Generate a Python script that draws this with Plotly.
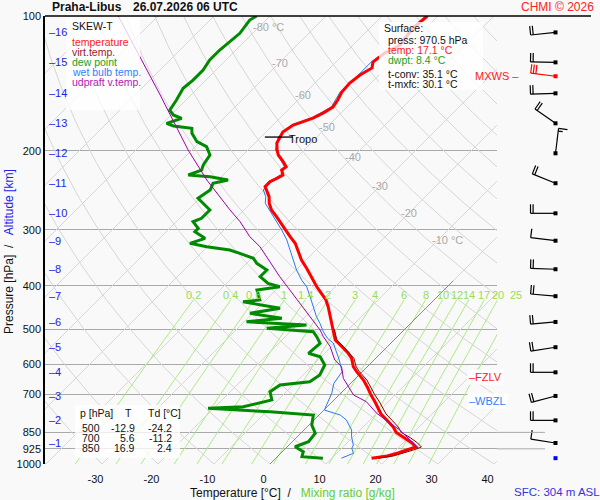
import numpy as np
import plotly.graph_objects as go

station = "Praha-Libus"
valid_time = "26.07.2026 06 UTC"

# environment temperature, pressure [hPa] / temperature [°C]
temp_p = [100, 106.4, 116.1, 120.9, 126.7, 130.6, 135.4, 141.1, 147.8, 154.0, 159.7, 164.7, 169.0, 173.4,
          175.1, 181.5, 186.3, 192.1, 199.1, 204.3, 211.5, 217.0, 220.8, 226.4, 230.3, 234.4, 240.4,
          246.7, 253.1, 261.8, 271.0, 280.5, 287.9, 300.4, 310.9, 321.7, 333.0, 350.5, 365.8, 385.1,
          402.1, 415.9, 430.5, 445.6, 465.0, 485.3, 500, 528.6, 547.2, 566.1, 580.8, 606.4, 622.3,
          649.4, 676.7, 700, 727.3, 749.9, 773.4, 797.8, 826.8, 850, 875.0, 897.6, 916.4, 930.6,
          945.1, 959.7, 970.5]
temp_t = [-51.9, -52.3, -51.6, -52.9, -53.4, -52.5, -53.4, -53.8, -53.6, -52.9, -52.5, -53.2, -54.1, -55.5,
          -56.4, -57.0, -56.6, -56.1, -54.8, -53.7, -51.6, -50.2, -50.4, -49.3, -49.8, -50.4, -50.4,
          -49.1, -47.9, -46.7, -45.1, -43.0, -41.5, -39.1, -37.0, -34.9, -33.3, -30.8, -28.4, -25.7,
          -23.3, -21.3, -19.3, -17.7, -15.9, -14.1, -12.9, -10.5, -8.1, -5.8, -4.3, -2.5, -1.0,
          1.7, 3.9, 5.6, 7.7, 9.3, 10.9, 13.0, 15.4, 16.9, 19.5, 21.6, 23.0, 22.0,
          20.9, 19.5, 17.1]

# virtual temperature (lower part, above it lies under the temperature)
virt_p = [500, 528.6, 547.2, 566.1, 580.8, 606.4, 622.3, 649.4, 676.7, 700, 727.3, 749.9, 773.4,
          797.8, 826.8, 850, 875.0, 897.6, 916.4, 930.6, 945.1, 959.7, 970.5]
virt_t = [-12.6, -10.2, -7.8, -5.5, -3.9, -2.0, -0.5, 2.3, 4.5, 6.3, 8.5, 10.1, 11.8,
          13.9, 16.3, 17.8, 20.5, 22.6, 24.0, 23.1, 22.0, 20.6, 18.3]

# dew point
dew_p = [100, 102.1, 109.3, 114.1, 119.1, 125.4, 132.0, 139.0, 145.0, 154.0, 162.2, 166.3, 169.2, 173.6,
         176.0, 178.1, 182.7, 190.8, 195.7, 204.3, 215.1, 220.8, 226.4, 228.4, 232.3, 236.3, 244.6,
         255.2, 261.8, 271.0, 282.9, 287.9, 297.8, 303.0, 313.5, 321.7, 327.3, 333.0, 338.7, 347.4,
         356.5, 369.0, 381.9, 395.2, 402.1, 408.9, 430.5, 434.3, 449.3, 460.9, 473.0, 481.4, 489.5,
         497.8, 506.6, 519.7, 537.9, 566.1, 576.1, 601.2, 632.9, 655.1, 666.4, 689.7, 719.7, 745.0,
         751.3, 764.6, 777.5, 818.4, 854.0, 891.7, 915.1, 938.7, 963.1, 970.5]
dew_t = [-82.4, -82.9, -82.3, -82.6, -82.9, -82.9, -82.3, -82.3, -82.6, -81.7, -81.1, -79.6, -77.5, -79.3,
         -77.6, -73.9, -73.0, -70.6, -68.0, -65.9, -65.3, -64.7, -66.2, -62.0, -58.2, -60.3, -59.6,
         -60.3, -58.5, -56.1, -56.1, -57.0, -54.9, -54.9, -51.9, -53.7, -50.1, -45.4, -43.0, -39.7,
         -38.2, -35.2, -35.2, -32.6, -29.9, -33.4, -31.1, -33.8, -26.0, -30.5, -23.9, -29.6, -18.3,
         -24.8, -15.9, -14.4, -12.6, -12.9, -10.2, -7.9, -7.0, -7.6, -12.3, -12.9, -11.1, -15.0,
         -21.0, -9.3, -1.0, 0.5, 2.6, 2.9, 1.4, 3.75, 4.4, 8.4]

# wet bulb temperature
wet_p = [100, 106.4, 116.1, 120.9, 126.7, 135.4, 147.8, 159.7, 169.0, 175.1, 186.3, 199.1, 211.5, 217.0,
         226.4, 234.4, 244.6, 253.1, 261.8, 275.7, 287.9, 300.4, 316.2, 333.0, 350.5, 369.0, 388.5,
         402.1, 423.3, 445.6, 469.1, 485.3, 506.6, 524.0, 537.0, 586.0, 622.3, 660.6, 695.3, 751.3,
         758.0, 777.5, 797.8, 839.7, 869.3, 907.0, 922.6, 946.5, 963.1, 970.5]
wet_t = [-52.2, -52.6, -51.9, -53.2, -53.7, -53.7, -53.9, -52.8, -54.4, -56.7, -56.9, -55.1, -51.9, -50.5,
         -49.6, -50.7, -50.1, -48.5, -47.4, -44.5, -42.1, -39.7, -37.0, -34.6, -32.3, -29.9, -27.2,
         -25.1, -22.7, -20.4, -18.0, -16.2, -14.1, -12.2, -10.3, -6.2, -3.6, -3.0, -1.6, -0.1,
         0.1, 3.8, 5.8, 8.5, 9.7, 11.5, 11.8, 13.0, 12.1, 11.7]

# updraft virtual temperature
upd_p = [100, 150.1, 199.1, 232.3, 271.0, 287.9, 310.9, 327.3, 381.9, 437.9, 502.1, 519.7, 547.2,
         586.0, 606.4, 643.9, 683.8, 701.5, 726.1, 770.6, 839.7, 917.7]
upd_t = [-107.1, -85.5, -70.7, -62.0, -52.5, -48.6, -44.2, -40.6, -31.7, -23.3, -15.0, -13.2, -10.2,
         -7.0, -4.6, -2.2, 1.1, 2.6, 6.1, 10.0, 17.1, 23.4]

# altitude levels [km] and their pressure, wind at those levels
alt_km = [1, 2, 3, 4, 5, 6, 7, 8, 9, 10, 11, 12, 13, 14, 15, 16]
alt_p = [897.6, 799.1, 704.9, 624.2, 548.7, 481.9, 422.1, 367.5, 317.4, 275.7, 236.2, 202.5, 173.6,
         148.8, 126.9, 108.8]
wind_dir = [279, 270, 255, 270, 261, 265, 275, 272, 277, 270, 292, 7, 305, 268, 271, 264]
wind_kt = [10, 20, 20, 20, 20, 20, 20, 20, 10, 20, 20, 15, 20, 20, 20, 20]
mxws_p, mxws_dir, mxws_kt = 136.3, 277, 30

sfc_p, sfc_t, sfc_td = 970.5, 17.1, 8.4
t_conv, t_mxfc = 35.1, 30.1
tropo_p, tropo_t = 186.3, -56.6
fzlv_p, wbzl_p = 640, 723

table_p = [500, 700, 850]
table_t = [-12.9, 5.6, 16.9]
table_td = [-24.2, -11.2, 2.4]

p_ticks = [100, 200, 300, 400, 500, 600, 700, 850, 925, 1000]
t_ticks = [-30, -20, -10, 0, 10, 20, 30, 40]
iso_label_t = [-80, -70, -60, -50, -40, -30, -20, -10]
iso_label_p = [106, 127, 150, 177, 206, 240, 275, 316]
mix_vals = [0.2, 0.4, 0.6, 1, 1.4, 2, 3, 4, 6, 8, 10, 12, 14, 17, 20, 25]

BG = "#f9f9f9"
FONT = "Liberation Sans, Arial, sans-serif"


def skew(t, p):
    return np.asarray(t, dtype=float) + 80.0 * np.log10(1000.0 / np.asarray(p, dtype=float))


def px(x):
    return (x - 45) / 555.0


def py(y):
    return (464 - y) / 448.0


def skew_paper(xs):
    # skewed temperature -> paper x (0 deg at 270 px, 5.6 px per deg)
    return px(270 + 5.6 * xs)


def joined(lines):
    xs, ys = [], []
    for x, y in lines:
        xs += list(x) + [None]
        ys += list(y) + [None]
    return xs, ys


fig = go.Figure()
bg_line = dict(hoverinfo="skip", showlegend=False, mode="lines")

# dry adiabats
pp = np.logspace(3, 2, 80)
lines = []
for th in range(-40, 210, 10):
    tt = (th + 273.15) * (pp / 1000.0) ** 0.2857 - 273.15
    lines.append((skew(tt, pp), pp))
x, y = joined(lines)
fig.add_trace(go.Scatter(x=x, y=y, line=dict(color="#d6d6d6", width=1), **bg_line))

# isotherms
lines = [(skew([t, t], [1000, 100]), [1000, 100]) for t in range(-130, 50, 10)]
x, y = joined(lines)
fig.add_trace(go.Scatter(x=x, y=y, line=dict(color="#d6d6d6", width=1), **bg_line))

# mixing ratio lines
pm = np.linspace(1000, 430, 30)
lines = []
for w in mix_vals:
    e = w * pm / (622.0 + w)
    l = np.log(e / 6.112)
    td = 243.5 * l / (17.67 - l)
    lines.append((skew(td, pm), pm))
x, y = joined(lines)
fig.add_trace(go.Scatter(x=x, y=y, line=dict(color="#aeea86", width=1), **bg_line))

# 0 °C isotherm
fig.add_trace(go.Scatter(x=skew([0, 0], [1000, 390]), y=[1000, 390],
                         line=dict(color="#777777", width=0.8), **bg_line))

# profiles
fig.add_trace(go.Scatter(x=skew(dew_t, dew_p), y=dew_p, line=dict(color="#008a00", width=3), **bg_line))
fig.add_trace(go.Scatter(x=skew(wet_t, wet_p), y=wet_p, line=dict(color="#2a78f0", width=1), **bg_line))
fig.add_trace(go.Scatter(x=skew(temp_t, temp_p), y=temp_p, line=dict(color="#ff0000", width=3), **bg_line))
fig.add_trace(go.Scatter(x=skew(virt_t, virt_p), y=virt_p, line=dict(color="#8b0000", width=1), **bg_line))
fig.add_trace(go.Scatter(x=skew(upd_t, upd_p), y=upd_p, line=dict(color="#a000a8", width=1), **bg_line))

# tropopause mark
xt = float(skew(tropo_t, tropo_p))
fig.add_trace(go.Scatter(x=[xt - 2.7, xt + 2.3], y=[tropo_p, tropo_p],
                         line=dict(color="black", width=1.3), **bg_line))


# wind barbs in the right-hand column (x2 in pixels)
def barb(p0, wdir, kt, x0=555.5, staff=25.0, blen=9.0, gap=2.6):
    a = np.radians(wdir)
    ux, uy = np.sin(a), -np.cos(a)
    bx, by = -uy, ux
    segs = [((0, 0), (staff * ux, staff * uy))]
    nfull, half = kt // 10, (kt % 10) >= 5
    for i in range(nfull):
        sx, sy = (staff - i * gap) * ux, (staff - i * gap) * uy
        segs.append(((sx, sy), (sx + blen * bx, sy + blen * by)))
    if half:
        sx, sy = (staff - nfull * gap) * ux, (staff - nfull * gap) * uy
        segs.append(((sx, sy), (sx + 0.5 * blen * bx, sy + 0.5 * blen * by)))
    xs, ps = [], []
    for (ax, ay), (bx2, by2) in segs:
        xs += [x0 + ax, x0 + bx2, None]
        ps += [p0 * 10 ** (ay / 448.0), p0 * 10 ** (by2 / 448.0), None]
    return xs, ps


bxs, bps = [], []
for p0, d, s in zip(alt_p, wind_dir, wind_kt):
    xs, ps = barb(p0, d, s)
    bxs += xs
    bps += ps
fig.add_trace(go.Scatter(x=bxs, y=bps, xaxis="x2", yaxis="y2", line=dict(color="black", width=1.2), **bg_line))
fig.add_trace(go.Scatter(x=[555.5] * len(alt_p), y=alt_p, xaxis="x2", yaxis="y2", mode="markers",
                         marker=dict(symbol="square", size=4, color="black"), hoverinfo="skip", showlegend=False))
xs, ps = barb(mxws_p, mxws_dir, mxws_kt)
fig.add_trace(go.Scatter(x=xs, y=ps, xaxis="x2", yaxis="y2", line=dict(color="#ff0000", width=1.2), **bg_line))
fig.add_trace(go.Scatter(x=[555.5, 555.5], y=[mxws_p, sfc_p], xaxis="x2", yaxis="y2", mode="markers",
                         marker=dict(symbol="square", size=4, color=["#ff0000", "#0000ff"]),
                         hoverinfo="skip", showlegend=False))
# longer pressure lines at the bottom
x, y = joined([([497, 545], [p, p]) for p in [850, 925]])
fig.add_trace(go.Scatter(x=x, y=y, xaxis="x2", yaxis="y2", line=dict(color="#a9a9a9", width=1), **bg_line))

fig.update_layout(
    width=600, height=500,
    margin=dict(l=45, r=0, t=16, b=36),
    paper_bgcolor=BG, plot_bgcolor=BG,
    showlegend=False,
    font=dict(family=FONT, size=11, color="#111111"),
    xaxis=dict(domain=[0, 452 / 555], range=[(45 - 270) / 5.6, (497 - 270) / 5.6],
               tickvals=[t - 1.16 for t in t_ticks], ticktext=[str(t) for t in t_ticks],
               showgrid=False, zeroline=False, showline=False,
               ticks="outside", ticklen=5, tickcolor="rgba(0,0,0,0)", tickfont=dict(size=11)),
    yaxis=dict(type="log", range=[3, 2], tickvals=p_ticks, ticktext=[str(p) for p in p_ticks],
               showgrid=True, gridcolor="#a9a9a9", gridwidth=1, zeroline=False,
               showline=True, linecolor="black", linewidth=1.5, ticks="", tickfont=dict(size=11)),
    xaxis2=dict(domain=[452 / 555, 1], range=[497, 600], anchor="y2", visible=False),
    yaxis2=dict(type="log", range=[3, 2], anchor="x2", matches="y", visible=False, showgrid=False),
)

shapes = [
    dict(type="line", xref="paper", yref="paper", x0=px(45), x1=px(591), y0=1, y1=1,
         line=dict(color="black", width=1.5)),
]
for x0, x1, y0, y1 in [(66, 140, 110, 17), (379, 483, 90, 22), (75, 180, 458, 405)]:
    shapes.append(dict(type="rect", xref="paper", yref="paper", x0=px(x0), x1=px(x1), y0=py(y0), y1=py(y1),
                       fillcolor="rgba(255,255,255,0.78)", line=dict(width=0), layer="above"))
fig.update_layout(shapes=shapes)

ann = []


def note(x, y, text, color="#111111", size=11, xanchor="left", **kw):
    ann.append(dict(x=x, y=y, xref=kw.pop("xref", "paper"), yref=kw.pop("yref", "paper"), text=text,
                    showarrow=False, xanchor=xanchor, yanchor="middle",
                    font=dict(color=color, size=size, family=FONT), **kw))


note(px(50), py(7), "<b>" + station + "</b>", size=12)
note(px(131), py(7), "<b>" + valid_time + "</b>", size=12)
note(px(596), py(7), "CHMI © 2026", color="#ff2222", size=12, xanchor="right")

# legend
legend_items = [("SKEW-T", "#111111"), ("temperature", "#ff2020"), ("virt.temp.", "#9b1c1c"),
                ("dew point", "#22a022"), ("wet bulb temp.", "#3380ff"), ("udpraft v.temp.", "#b020b0")]
for i, (txt, col) in enumerate(legend_items):
    note(px(70), py(26 + (16 if i else 0) + max(i - 1, 0) * 10), txt, color=col, size=10.5)

# surface box
note(px(382), py(28), "Surface:", size=10.5)
note(px(386), py(40), "press: %.1f hPa" % sfc_p, size=10.5)
note(px(386), py(50), "temp: %.1f °C" % sfc_t, color="#ff2020", size=10.5)
note(px(386), py(60), "dwpt: %.1f °C" % sfc_td, color="#22a022", size=10.5)
note(px(386), py(74), "t-conv: %.1f °C" % t_conv, size=10.5)
note(px(386), py(84), "t-mxfc: %.1f °C" % t_mxfc, size=10.5)

# table
note(px(78), py(413), "p [hPa]", size=10.5)
note(px(128), py(413), "T", xanchor="center", size=10.5)
note(px(146), py(413), "Td [°C]", size=10.5)
for i, (p, t, td) in enumerate(zip(table_p, table_t, table_td)):
    yy = py(428.3 + 10 * i)
    note(px(102), yy, str(p), xanchor="right", size=10.5)
    note(px(137), yy, "%.1f" % t, xanchor="right", size=10.5)
    note(px(174), yy, "%.1f" % td, xanchor="right", size=10.5)

# altitude labels
for km, p in zip(alt_km, alt_p):
    note(px(47), np.log10(p), "–" + str(km), color="#2222ee", yref="y")

# isotherm labels
for t, p in zip(iso_label_t, iso_label_p):
    xl = float(skew(t, p))
    if t in (-80, -10):
        note(xl, np.log10(p), "%d °C" % t, color="#aaaaaa", xref="x", yref="y", xshift=-8)
    else:
        note(xl, np.log10(p), str(t), color="#aaaaaa", xref="x", yref="y", xanchor="center")

# mixing ratio labels
for w in mix_vals:
    e = w * 430 / (622.0 + w)
    l = np.log(e / 6.112)
    td = 243.5 * l / (17.67 - l)
    note(skew_paper(float(skew(td, 430))), np.log10(419), "%g" % w, color="#99dd55",
         yref="y", xanchor="center")

note(xt + 1.3, np.log10(tropo_p), "Tropo", xref="x", yref="y", yshift=-2)
note(px(467), np.log10(fzlv_p), "–FZLV", color="#ff2020", yref="y", bgcolor="white", borderpad=1)
note(px(467), np.log10(wbzl_p), "–WBZL", color="#3380ff", yref="y", bgcolor="white", borderpad=1)
note(px(521), np.log10(mxws_p), "MXWS –", color="#ff2020", yref="y", xanchor="right")

note(px(292), py(493),
     "Temperature [°C]\u00a0 /\u00a0\u00a0 <span style='color:#66cc33'>Mixing ratio [g/kg]</span>",
     size=12, xanchor="center")
note(px(512), py(492), "SFC: 304 m ASL", color="#3333dd", size=11.5)
ann.append(dict(x=px(9), y=py(252), xref="paper", yref="paper", textangle=-90, showarrow=False,
                text="Pressure [hPa]\u00a0 /\u00a0\u00a0 <span style='color:#2222ee'>Altitude [km]</span>",
                font=dict(size=12, family=FONT, color="#111111"), xanchor="center", yanchor="middle"))

fig.update_layout(annotations=ann)
fig.write_html("out.html", config={"displayModeBar": False},
               post_script="document.body.style.margin='0';")
